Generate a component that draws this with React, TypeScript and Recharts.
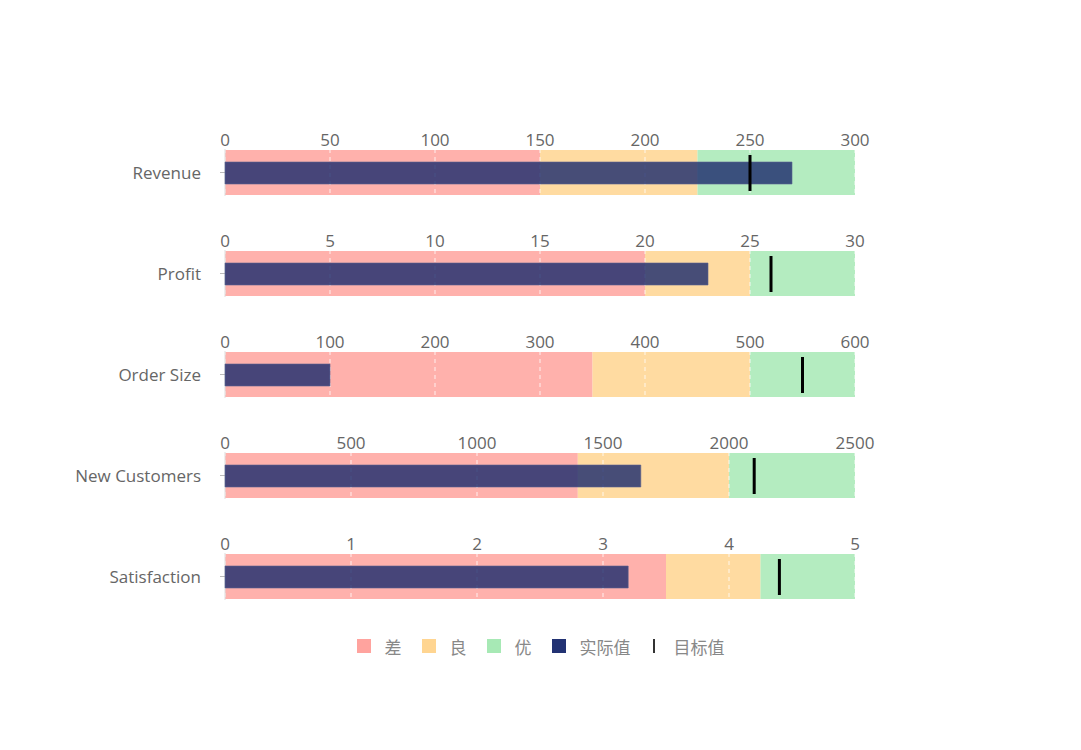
import React from 'react';
import { Bar, BarChart, ReferenceLine, XAxis, YAxis } from 'recharts';

// bullet chart rows
const metrics = ['Revenue', 'Profit', 'Order Size', 'New Customers', 'Satisfaction'];
const poorLimits = [150, 20, 350, 1400, 3.5];
const goodLimits = [225, 25, 500, 2000, 4.25];
const maxima = [300, 30, 600, 2500, 5];
const actuals = [270, 23, 100, 1650, 3.2];
const targets = [250, 26, 550, 2100, 4.4];
const tickLists = [
  [0, 50, 100, 150, 200, 250, 300],
  [0, 5, 10, 15, 20, 25, 30],
  [0, 100, 200, 300, 400, 500, 600],
  [0, 500, 1000, 1500, 2000, 2500],
  [0, 1, 2, 3, 4, 5],
];

const legendItems = [
  { label: '差', color: '#ffa39e' },
  { label: '良', color: '#ffd591' },
  { label: '优', color: '#a7e9b5' },
  { label: '实际值', color: '#223273' },
];

const FONT = "'Open Sans', 'Noto Sans CJK SC', sans-serif";

const TargetMark = (props: any) => {
  const { x, y, width, height } = props;
  return <rect x={x + width - 1.5} y={y} width={3} height={height} fill="#000" />;
};

function BulletRow({ index }: { index: number }) {
  const row = [
    {
      name: metrics[index],
      poor: poorLimits[index],
      good: goodLimits[index] - poorLimits[index],
      excellent: maxima[index] - goodLimits[index],
      actual: actuals[index],
      target: targets[index],
    },
  ];
  return (
    <BarChart
      layout="vertical"
      width={1065}
      height={101}
      data={row}
      margin={{ top: 0, right: 218, bottom: 27, left: 0 }}
      style={{ fontFamily: FONT }}
    >
      <XAxis
        type="number"
        orientation="top"
        domain={[0, maxima[index]]}
        ticks={tickLists[index]}
        interval={0}
        height={27}
        axisLine={false}
        tickLine={false}
        tickSize={0}
        tickMargin={3}
        tick={{ fill: '#666', fontSize: 17 }}
      />
      <YAxis yAxisId="actual" type="category" dataKey="name" hide width={0} />
      <YAxis yAxisId="target" type="category" dataKey="name" hide width={0} />
      <YAxis
        yAxisId="band"
        type="category"
        dataKey="name"
        width={217}
        axisLine={{ stroke: '#ddd' }}
        tickLine={{ stroke: '#bbb' }}
        tickSize={5}
        tickMargin={19}
        tick={{ fill: '#666', fontSize: 17 }}
      />
      <Bar yAxisId="band" dataKey="poor" stackId="range" barSize={45} fill="#ffa39e" fillOpacity={0.85} isAnimationActive={false} />
      <Bar yAxisId="band" dataKey="good" stackId="range" barSize={45} fill="#ffd591" fillOpacity={0.85} isAnimationActive={false} />
      <Bar yAxisId="band" dataKey="excellent" stackId="range" barSize={45} fill="#a7e9b5" fillOpacity={0.85} isAnimationActive={false} />
      {tickLists[index].map((t) => (
        <ReferenceLine key={t} yAxisId="band" x={t} stroke="#fff" strokeOpacity={0.8} strokeDasharray="4 4" />
      ))}
      <Bar
        yAxisId="actual"
        dataKey="actual"
        barSize={22}
        fill="#1f2d6e"
        fillOpacity={0.82}
        stroke="#5a6090"
        strokeOpacity={0.6}
        zIndex={600}
        isAnimationActive={false}
      />
      <Bar
        yAxisId="target"
        dataKey="target"
        barSize={36}
        shape={TargetMark}
        zIndex={700}
        isAnimationActive={false}
      />
    </BarChart>
  );
}

export default function App() {
  return (
    <div style={{ width: 1065, paddingTop: 114, fontFamily: FONT }}>
      {metrics.map((m, i) => (
        <BulletRow key={m} index={i} />
      ))}
      <div
        style={{
          display: 'flex',
          justifyContent: 'center',
          alignItems: 'center',
          marginTop: 8,
          height: 22,
          fontSize: 17,
          color: '#888',
        }}
      >
        {legendItems.map((item) => (
          <div key={item.label} style={{ display: 'flex', alignItems: 'center', marginRight: 20 }}>
            <span style={{ width: 14, height: 14, background: item.color, marginRight: 14 }} />
            <span>{item.label}</span>
          </div>
        ))}
        <div style={{ display: 'flex', alignItems: 'center' }}>
          <span style={{ width: 2, height: 14, background: '#333', marginRight: 19, marginLeft: 2 }} />
          <span>目标值</span>
        </div>
      </div>
    </div>
  );
}
